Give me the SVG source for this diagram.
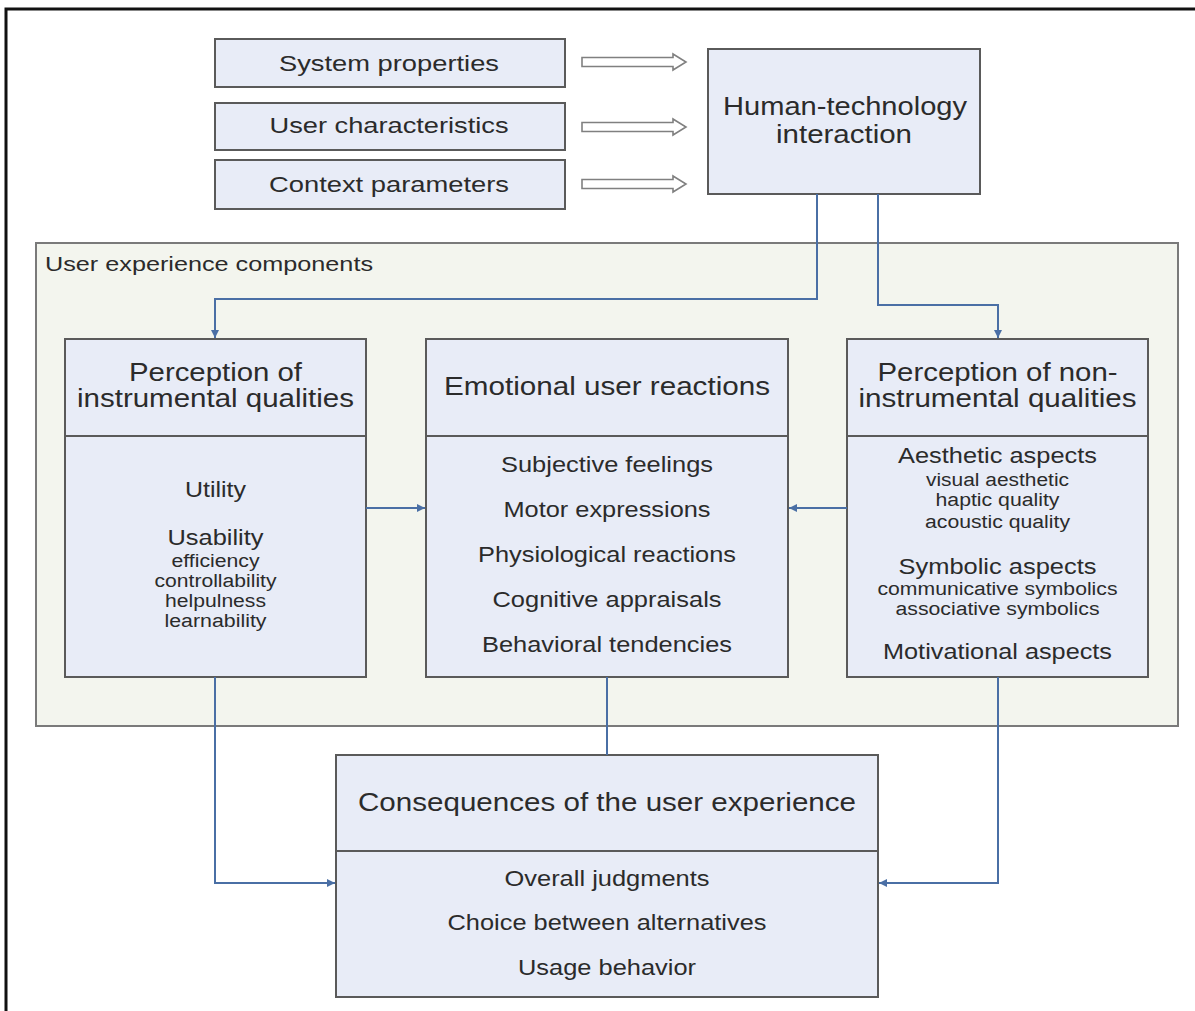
<svg xmlns="http://www.w3.org/2000/svg" width="1195" height="1011" viewBox="0 0 1195 1011">
<defs>
<style>
text{font-family:"Liberation Sans",Arial,sans-serif;fill:#2b2b2b;text-anchor:middle}
.box{fill:#e8ecf7;stroke:#5a5a5a;stroke-width:2}
.div{stroke:#5a5a5a;stroke-width:2}
.h{font-size:25.5px}
.b{font-size:21.5px}
.s{font-size:17.6px}
.con{fill:none;stroke:#4a6fa5;stroke-width:2}
.hollow{fill:#ffffff;stroke:#808080;stroke-width:1.6}
</style>
<marker id="ah" viewBox="0 0 10 10" refX="10" refY="5" markerWidth="9" markerHeight="8" markerUnits="userSpaceOnUse" orient="auto">
<path d="M0,0 L10,5 L0,10 z" fill="#4a6fa5"/>
</marker>
</defs>
<rect x="0" y="0" width="1195" height="1011" fill="#ffffff"/>
<rect id="frame" x="6" y="9" width="1200" height="1010" fill="none" stroke="#111" stroke-width="3"/>

<g id="ux-components">
<rect x="36" y="243" width="1142" height="483" fill="#f3f5ee" stroke="#7a7a7a" stroke-width="2"/>
<text x="45" y="271" style="font-size:19.5px;text-anchor:start" textLength="328" lengthAdjust="spacingAndGlyphs">User experience components</text>
</g>

<g id="system-properties">
<rect class="box" x="215" y="39" width="350" height="48"/>
<text class="b" x="389" y="70.5" textLength="220" lengthAdjust="spacingAndGlyphs">System properties</text>
</g>
<g id="user-characteristics">
<rect class="box" x="215" y="103" width="350" height="47"/>
<text class="b" x="389" y="133" textLength="239" lengthAdjust="spacingAndGlyphs">User characteristics</text>
</g>
<g id="context-parameters">
<rect class="box" x="215" y="160" width="350" height="49"/>
<text class="b" x="389" y="192" textLength="240" lengthAdjust="spacingAndGlyphs">Context parameters</text>
</g>

<g id="hti">
<rect class="box" x="708" y="49" width="272" height="145"/>
<text style="font-size:26px" x="845" y="115" textLength="244" lengthAdjust="spacingAndGlyphs">Human-technology</text>
<text style="font-size:26px" x="844" y="143" textLength="136" lengthAdjust="spacingAndGlyphs">interaction</text>
</g>

<g id="instrumental">
<rect class="box" x="65" y="339" width="301" height="338"/>
<line class="div" x1="65" y1="436" x2="366" y2="436"/>
<text class="h" x="215.5" y="381" textLength="173" lengthAdjust="spacingAndGlyphs">Perception of</text>
<text class="h" x="215.5" y="407" textLength="277" lengthAdjust="spacingAndGlyphs">instrumental qualities</text>
<text class="b" x="215.5" y="497" textLength="61" lengthAdjust="spacingAndGlyphs">Utility</text>
<text class="b" x="215.5" y="545" textLength="96" lengthAdjust="spacingAndGlyphs">Usability</text>
<text class="s" x="215.5" y="567" textLength="88" lengthAdjust="spacingAndGlyphs">efficiency</text>
<text class="s" x="215.5" y="587" textLength="122" lengthAdjust="spacingAndGlyphs">controllability</text>
<text class="s" x="215.5" y="607" textLength="101" lengthAdjust="spacingAndGlyphs">helpulness</text>
<text class="s" x="215.5" y="627" textLength="102" lengthAdjust="spacingAndGlyphs">learnability</text>
</g>

<g id="emotional">
<rect class="box" x="426" y="339" width="362" height="338"/>
<line class="div" x1="426" y1="436" x2="788" y2="436"/>
<text class="h" x="607" y="395" textLength="326" lengthAdjust="spacingAndGlyphs">Emotional user reactions</text>
<text class="b" x="607" y="472" textLength="212" lengthAdjust="spacingAndGlyphs">Subjective feelings</text>
<text class="b" x="607" y="517" textLength="207" lengthAdjust="spacingAndGlyphs">Motor expressions</text>
<text class="b" x="607" y="562" textLength="258" lengthAdjust="spacingAndGlyphs">Physiological reactions</text>
<text class="b" x="607" y="607" textLength="229" lengthAdjust="spacingAndGlyphs">Cognitive appraisals</text>
<text class="b" x="607" y="652" textLength="250" lengthAdjust="spacingAndGlyphs">Behavioral tendencies</text>
</g>

<g id="non-instrumental">
<rect class="box" x="847" y="339" width="301" height="338"/>
<line class="div" x1="847" y1="436" x2="1148" y2="436"/>
<text class="h" x="997.5" y="381" textLength="240" lengthAdjust="spacingAndGlyphs">Perception of non-</text>
<text class="h" x="997.5" y="407" textLength="278" lengthAdjust="spacingAndGlyphs">instrumental qualities</text>
<text class="b" x="997.5" y="463" textLength="199" lengthAdjust="spacingAndGlyphs">Aesthetic aspects</text>
<text class="s" x="997.5" y="486" textLength="143" lengthAdjust="spacingAndGlyphs">visual aesthetic</text>
<text class="s" x="997.5" y="506" textLength="124" lengthAdjust="spacingAndGlyphs">haptic quality</text>
<text class="s" x="997.5" y="528" textLength="145" lengthAdjust="spacingAndGlyphs">acoustic quality</text>
<text class="b" x="997.5" y="574" textLength="198" lengthAdjust="spacingAndGlyphs">Symbolic aspects</text>
<text class="s" x="997.5" y="595" textLength="240" lengthAdjust="spacingAndGlyphs">communicative symbolics</text>
<text class="s" x="997.5" y="615" textLength="204" lengthAdjust="spacingAndGlyphs">associative symbolics</text>
<text class="b" x="997.5" y="659" textLength="229" lengthAdjust="spacingAndGlyphs">Motivational aspects</text>
</g>

<g id="consequences">
<rect class="box" x="336" y="755" width="542" height="242"/>
<line class="div" x1="336" y1="851" x2="878" y2="851"/>
<text class="h" x="607" y="811" textLength="498" lengthAdjust="spacingAndGlyphs">Consequences of the user experience</text>
<text class="b" x="607" y="886" textLength="205" lengthAdjust="spacingAndGlyphs">Overall judgments</text>
<text class="b" x="607" y="930" textLength="319" lengthAdjust="spacingAndGlyphs">Choice between alternatives</text>
<text class="b" x="607" y="975" textLength="178" lengthAdjust="spacingAndGlyphs">Usage behavior</text>
</g>

<g id="connectors">
<path class="hollow" d="M582,57.5 H673 V54 L686,62 L673,70 V66.5 H582 Z"/>
<path class="hollow" d="M582,122.5 H673 V119 L686,127 L673,135 V131.5 H582 Z"/>
<path class="hollow" d="M582,179.5 H673 V176 L686,184 L673,192 V188.5 H582 Z"/>
<path class="con" d="M817,194 V299 H215 V338" marker-end="url(#ah)"/>
<path class="con" d="M878,194 V305 H998 V338" marker-end="url(#ah)"/>
<path class="con" d="M366,508 H425" marker-end="url(#ah)"/>
<path class="con" d="M847,508 H789" marker-end="url(#ah)"/>
<path class="con" d="M215,677 V883 H335" marker-end="url(#ah)"/>
<path class="con" d="M998,677 V883 H879" marker-end="url(#ah)"/>
<path class="con" d="M607,677 V755"/>
</g>
</svg>
